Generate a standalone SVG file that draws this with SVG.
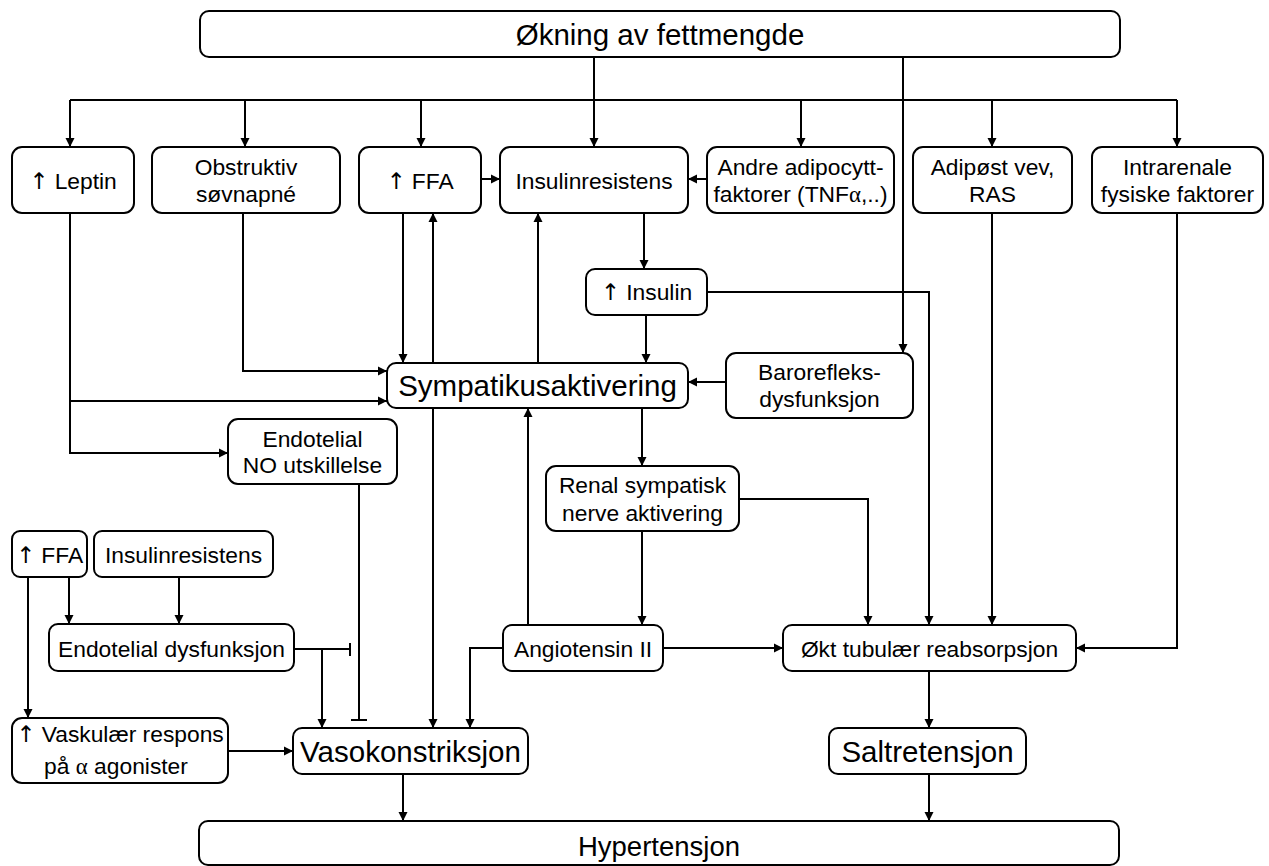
<svg xmlns="http://www.w3.org/2000/svg" width="1269" height="866" viewBox="0 0 1269 866">
<style>
.box{fill:#fff;stroke:#000;stroke-width:2}
.t{font-family:"Liberation Sans",Arial,sans-serif;font-size:22.8px;text-anchor:middle;fill:#000}
.big{font-size:29.5px}
.g{font-family:"Liberation Serif","Times New Roman",serif}
.u{font-family:"DejaVu Sans",sans-serif;font-weight:normal;fill:#000}
.c{fill:none;stroke:#000;stroke-width:2}
</style>
<defs>
<marker id="a" markerWidth="10" markerHeight="10" refX="9" refY="5" orient="auto" markerUnits="userSpaceOnUse">
<path d="M0,0.5 L9,5 L0,9.5 z" fill="#000"/>
</marker>
</defs>
<rect width="1269" height="866" fill="#fff"/>
<g id="connectors" class="c">
<path d="M70,100 H1177"/>
<path d="M594,57 V147" marker-end="url(#a)"/>
<path d="M70,100 V147" marker-end="url(#a)"/>
<path d="M245,100 V147" marker-end="url(#a)"/>
<path d="M421,100 V147" marker-end="url(#a)"/>
<path d="M801,100 V147" marker-end="url(#a)"/>
<path d="M992,100 V147" marker-end="url(#a)"/>
<path d="M1177,100 V147" marker-end="url(#a)"/>
<path d="M903,57 V353" marker-end="url(#a)"/>
<path d="M481,179 H500" marker-end="url(#a)"/>
<path d="M707,179 H688" marker-end="url(#a)"/>
<path d="M644,213 V269" marker-end="url(#a)"/>
<path d="M646,315 V363" marker-end="url(#a)"/>
<path d="M707,292 H929 V625" marker-end="url(#a)"/>
<path d="M538,363 V213" marker-end="url(#a)"/>
<path d="M403,213 V363" marker-end="url(#a)"/>
<path d="M433,363 V213" marker-end="url(#a)"/>
<path d="M433,408 V728" marker-end="url(#a)"/>
<path d="M243,213 V371 H387" marker-end="url(#a)"/>
<path d="M70,213 V453 H228" marker-end="url(#a)"/>
<path d="M70,401 H387" marker-end="url(#a)"/>
<path d="M726,382 H688" marker-end="url(#a)"/>
<path d="M642,408 V466" marker-end="url(#a)"/>
<path d="M642,531 V625" marker-end="url(#a)"/>
<path d="M739,499 H868 V625" marker-end="url(#a)"/>
<path d="M528,625 V408" marker-end="url(#a)"/>
<path d="M503,648 H470 V728" marker-end="url(#a)"/>
<path d="M663,648 H783" marker-end="url(#a)"/>
<path d="M992,213 V625" marker-end="url(#a)"/>
<path d="M1177,213 V648 H1076" marker-end="url(#a)"/>
<path d="M929,671 V728" marker-end="url(#a)"/>
<path d="M929,774 V821" marker-end="url(#a)"/>
<path d="M403,774 V821" marker-end="url(#a)"/>
<path d="M359,484 V720 M351,720 H367"/>
<path d="M294,649 H350 M350,643 V656"/>
<path d="M322,649 V728" marker-end="url(#a)"/>
<path d="M28,577 V718" marker-end="url(#a)"/>
<path d="M69,577 V624" marker-end="url(#a)"/>
<path d="M179,577 V624" marker-end="url(#a)"/>
<path d="M228,751 H293" marker-end="url(#a)"/>
</g>
<g id="okning"><rect class="box" x="200" y="11" width="920" height="46" rx="9"/><text class="t big" x="660" y="45">Økning av fettmengde</text></g>
<g id="leptin"><rect class="box" x="12" y="147" width="122" height="66" rx="10"/><text class="t" x="73" y="189"><tspan class="u">↑</tspan> Leptin</text></g>
<g id="obstruktiv"><rect class="box" x="152" y="147" width="188" height="66" rx="10"/><text class="t" x="246" y="175">Obstruktiv</text><text class="t" x="246" y="202">søvnapné</text></g>
<g id="ffa1"><rect class="box" x="359" y="147" width="122" height="66" rx="10"/><text class="t" x="420" y="189"><tspan class="u">↑</tspan> FFA</text></g>
<g id="insulinresistens1"><rect class="box" x="500" y="147" width="188" height="66" rx="10"/><text class="t" x="594" y="189">Insulinresistens</text></g>
<g id="andre"><rect class="box" x="707" y="147" width="187" height="66" rx="10"/><text class="t" x="800.5" y="175">Andre adipocytt-</text><text class="t" x="800.5" y="202">faktorer (TNF<tspan class="g">α</tspan>,..)</text></g>
<g id="adipost"><rect class="box" x="913" y="147" width="159" height="66" rx="10"/><text class="t" x="992.5" y="175">Adipøst vev,</text><text class="t" x="992.5" y="202">RAS</text></g>
<g id="intrarenale"><rect class="box" x="1092" y="147" width="171" height="66" rx="10"/><text class="t" x="1177.5" y="175">Intrarenale</text><text class="t" x="1177.5" y="202">fysiske faktorer</text></g>
<g id="insulin"><rect class="box" x="586" y="269" width="121" height="46" rx="9"/><text class="t" x="646.5" y="300"><tspan class="u">↑</tspan> Insulin</text></g>
<g id="sympatikus"><rect class="box" x="387" y="363" width="301" height="45" rx="9"/><text class="t big" x="537.5" y="396">Sympatikusaktivering</text></g>
<g id="barorefleks"><rect class="box" x="726" y="353" width="187" height="65" rx="10"/><text class="t" x="819.5" y="380">Barorefleks-</text><text class="t" x="819.5" y="407">dysfunksjon</text></g>
<g id="endotelialNO"><rect class="box" x="228" y="419" width="169" height="65" rx="10"/><text class="t" x="312.5" y="447">Endotelial</text><text class="t" x="312.5" y="473">NO utskillelse</text></g>
<g id="renal"><rect class="box" x="546" y="466" width="193" height="65" rx="10"/><text class="t" x="642.5" y="493">Renal sympatisk</text><text class="t" x="642.5" y="521">nerve aktivering</text></g>
<g id="ffa2"><rect class="box" x="12" y="531" width="75" height="46" rx="8"/><text class="t" x="49.5" y="563"><tspan class="u">↑</tspan> FFA</text></g>
<g id="insulinresistens2"><rect class="box" x="94" y="531" width="179" height="46" rx="8"/><text class="t" x="183.5" y="563">Insulinresistens</text></g>
<g id="endoteldys"><rect class="box" x="49" y="624" width="245" height="47" rx="9"/><text class="t" x="171.5" y="657">Endotelial dysfunksjon</text></g>
<g id="angiotensin"><rect class="box" x="503" y="625" width="160" height="46" rx="9"/><text class="t" x="583" y="657">Angiotensin II</text></g>
<g id="okt"><rect class="box" x="783" y="625" width="293" height="46" rx="9"/><text class="t" x="929.5" y="657">Økt tubulær reabsorpsjon</text></g>
<g id="vaskular"><rect class="box" x="12" y="718" width="216" height="65" rx="10"/><text class="t" x="120" y="742"><tspan class="u">↑</tspan> Vaskulær respons</text><text class="t" x="116" y="774">på <tspan class="g">α</tspan> agonister</text></g>
<g id="vaso"><rect class="box" x="293" y="728" width="235" height="46" rx="9"/><text class="t big" x="410.5" y="762">Vasokonstriksjon</text></g>
<g id="salt"><rect class="box" x="829" y="728" width="197" height="46" rx="9"/><text class="t big" x="927.5" y="762">Saltretensjon</text></g>
<g id="hyper"><rect class="box" x="199" y="821" width="920" height="44" rx="9"/><text class="t big" x="659" y="856" style="font-size:27.5px">Hypertensjon</text></g>
</svg>
